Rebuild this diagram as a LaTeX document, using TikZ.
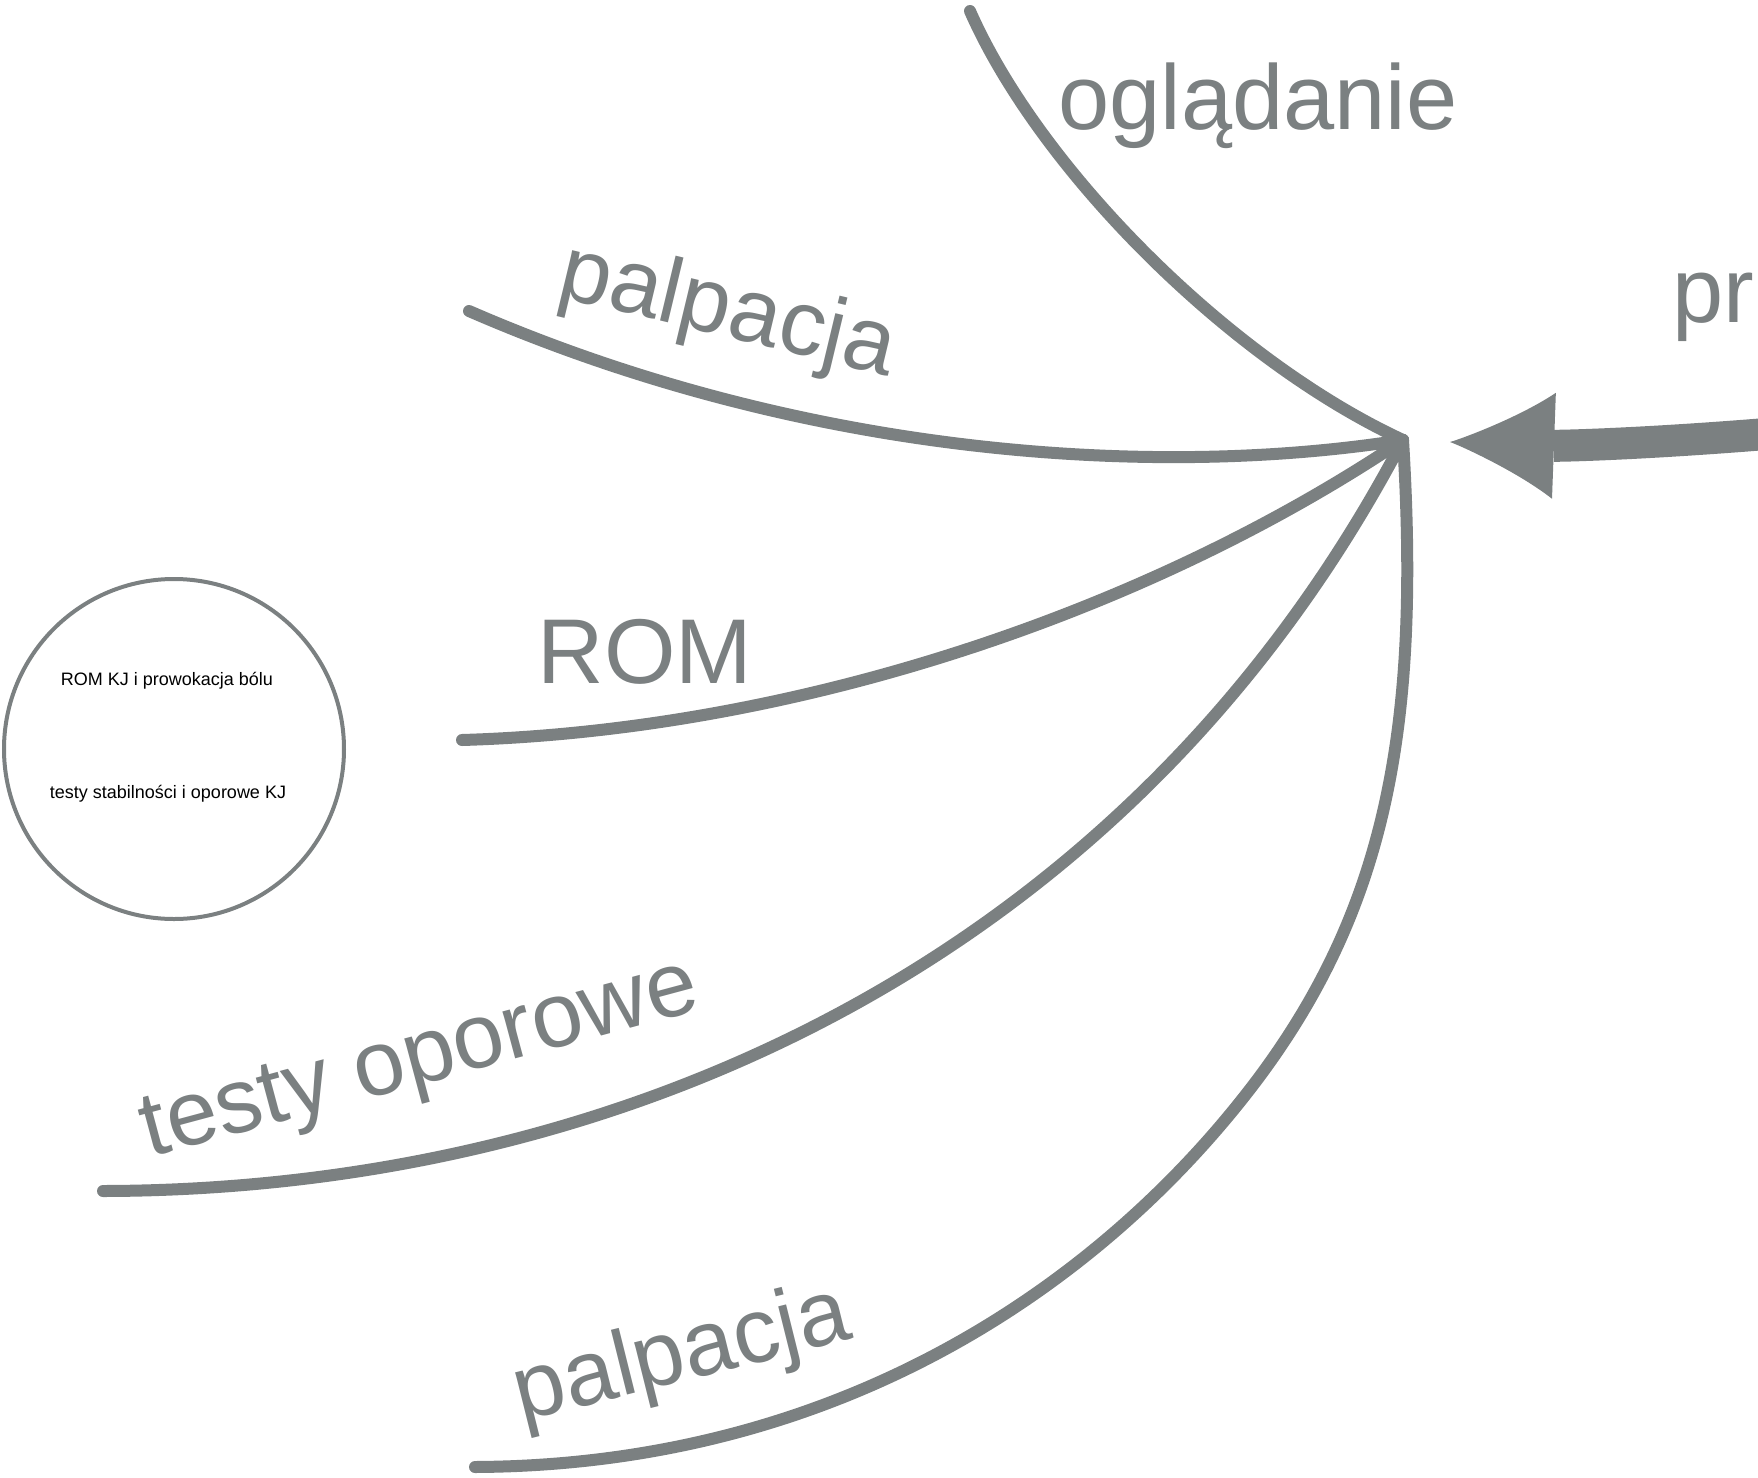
\documentclass[tikz,border=0pt]{standalone}
\usepackage{fontspec}
\setmainfont{Liberation Sans}
\usetikzlibrary{arrows.meta}
\definecolor{linegray}{HTML}{7B8081}
\tikzset{
    branch/.style={draw=linegray, line width=6pt, line cap=round},
    biglabel/.style={text=linegray, font=\fontsize{46}{55}\selectfont, anchor=base, inner sep=0pt},
    smalllabel/.style={text=black, font=\fontsize{9}{11}\selectfont, anchor=base, inner sep=0pt},
}
\begin{document}
\begin{tikzpicture}[x=0.5pt, y=-0.5pt]
    \useasboundingbox (0,0) rectangle (1758,1478);
    \clip (0,0) rectangle (1758,1478);

    \coordinate (hub) at (1403,440);
    \coordinate (ogl) at (970,11);
    \coordinate (palpa) at (469,311);
    \coordinate (rom) at (462,740);
    \coordinate (testy) at (103,1191);
    \coordinate (palpb) at (475,1467);
    \coordinate (palpbmid) at (1257,1080);
    \coordinate (src) at (1790,432);
    \coordinate (tip) at (1450,442);

    \draw [branch] (ogl) .. controls (1040,170) and (1230,360) .. (hub);
    \draw [branch] (palpa) .. controls (800,455) and (1150,480) .. (hub);
    \draw [branch] (rom) .. controls (800,730) and (1150,610) .. (hub);
    \draw [branch] (testy) .. controls (620,1190) and (1130,960) .. (hub);
    \draw [branch] (palpb) .. controls (850,1465) and (1110,1275) .. (palpbmid)
        .. controls (1389,904) and (1420,720) .. (hub);

    \draw [linegray, line width=16pt, -{Latex[length=52pt 0 0, width=53pt 0 0, line width=0pt]}]
        (src) .. controls (1650,444) and (1560,446) .. (tip);

    \node [biglabel] (ogladanie) at (1258,129) {oglądanie};
    \node [biglabel, rotate=-13.5] (palpacjatop) at (722,336) {palpacja};
    \node [biglabel] (romlabel) at (645,683) {ROM};
    \node [biglabel, rotate=15] (testylabel) at (426,1083) {testy oporowe};
    \node [biglabel, rotate=14] (palpacjabottom) at (688,1380) {palpacja};
    \node [biglabel, anchor=base west] (przedm) at (1672,322) {pr};

    % circle with the two tests
    \node [draw=linegray, line width=2pt, circle, minimum size=170pt, inner sep=0pt] (ocena) at (174,749) {};
    \node [smalllabel] (romkj) at (167,685) {ROM KJ i prowokacja bólu};
    \node [smalllabel] (stabil) at (168,798) {testy stabilności i oporowe KJ};
\end{tikzpicture}
\end{document}
